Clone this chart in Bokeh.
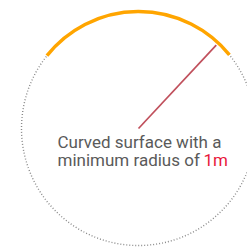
from bokeh.plotting import figure
from bokeh.models import Range1d
from bokeh.core.properties import value
from bokeh.embed import file_html
from bokeh.resources import INLINE
import numpy as np

# Geometry values (figure coordinates, y up)
center_x = [138]
center_y = [119]
radius = [117]
arc_start_deg = [39]
arc_end_deg = [141.5]
radius_line_deg = [47]
label_lines = ["Curved surface with a", "minimum radius of "]
label_highlight = ["1m"]

p = figure(width=247, height=247, output_backend="svg", toolbar_location=None,
           x_range=Range1d(0, 247), y_range=Range1d(0, 247), min_border=0)
p.axis.visible = False
p.grid.visible = False
p.outline_line_color = None
p.background_fill_color = "white"
p.border_fill_color = "white"

# dotted circle
p.circle(x=center_x, y=center_y, radius=radius, fill_color=None,
         line_color="#8a8a8a", line_dash="1 2", line_width=1.4)

# orange arc
p.arc(x=center_x, y=center_y, radius=radius,
      start_angle=np.radians(arc_start_deg).tolist(), end_angle=np.radians(arc_end_deg).tolist(),
      line_color="#FFA500", line_width=3.5)

# radius line
ang = np.radians(radius_line_deg[0])
rl = radius[0] - 3
p.segment(x0=center_x, y0=center_y,
          x1=[center_x[0] + rl * np.cos(ang)], y1=[center_y[0] + rl * np.sin(ang)],
          line_color="#c0505c", line_width=1.7)

font = value("Roboto")
fs = "17px"
p.text(x=[57, 57], y=[106, 88], text=label_lines, text_font=font, text_font_size=fs,
       text_color="#5a5a5a", text_baseline="middle", text_align="left")
p.text(x=[203], y=[88], text=label_highlight, text_font=font, text_font_size=fs,
       text_color="#e8173a", text_baseline="middle", text_align="left")

open("out.html", "w").write(file_html(p, INLINE))
